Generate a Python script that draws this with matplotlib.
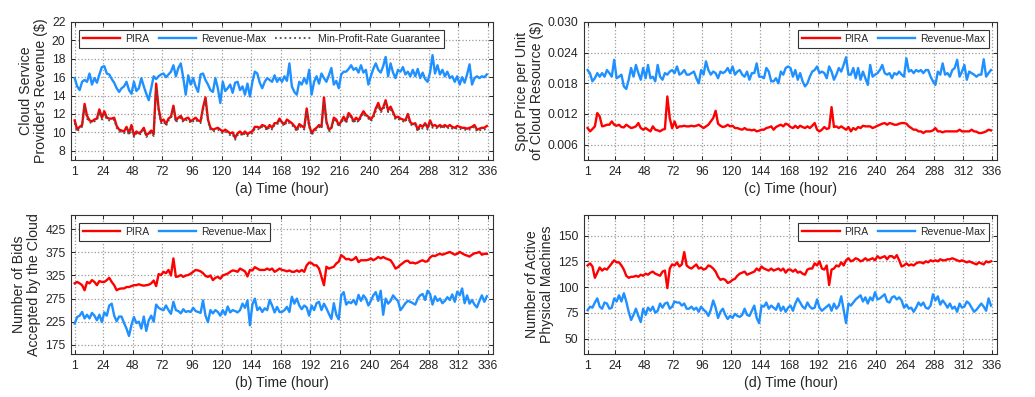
import matplotlib
matplotlib.use("Agg")
import matplotlib.pyplot as plt

plt.rcParams['font.family'] = ['Liberation Sans', 'DejaVu Sans']

# hourly time axis (sampled every 2 hours)
hours = list(range(1, 337, 2))
xtick_vals = [1, 24, 48, 72, 96, 120, 144, 168, 192, 216, 240, 264, 288, 312, 336]

# (a) revenue
rev_pira = [
    11.3, 10.3, 10.6, 10.8, 13.1, 11.8, 11.3, 11.2, 11.4, 11.5, 12.5, 11.6,
    12.3, 11.6, 11.5, 11.5, 11.6, 10.7, 10.3, 10.2, 10.1, 10.6, 9.9, 10.8,
    9.7, 10.1, 9.9, 10.1, 10.5, 9.7, 9.9, 10.2, 9.8, 15.3, 12.6, 11.2,
    11.4, 10.9, 11.5, 11.7, 12.9, 11.3, 11.6, 11.8, 11.3, 11.5, 11.6, 11.2,
    11.4, 11.6, 11.3, 11.2, 12.7, 13.8, 11.4, 10.5, 10.3, 10.4, 10.5, 10.3,
    10.1, 10.3, 10.1, 9.9, 10.0, 9.4, 9.9, 10.1, 9.8, 10.1, 9.8, 10.0,
    10.1, 10.6, 10.6, 10.5, 10.8, 10.7, 10.4, 10.8, 10.5, 11.0, 11.0, 11.5,
    11.1, 10.9, 11.4, 11.2, 11.0, 10.7, 10.3, 10.9, 10.7, 10.5, 12.6, 10.8,
    9.9, 10.3, 10.5, 10.8, 10.6, 13.8, 11.2, 10.3, 10.5, 11.6, 11.4, 10.8,
    11.2, 11.7, 11.2, 12.1, 11.8, 11.2, 11.6, 11.3, 11.8, 12.3, 11.9, 11.7,
    11.4, 11.8, 12.6, 13.2, 12.4, 12.7, 13.5, 12.4, 12.8, 12.2, 11.6, 11.7,
    11.5, 11.4, 11.3, 12.0, 11.1, 10.9, 11.0, 10.3, 10.8, 10.6, 11.0, 10.5,
    11.3, 10.7, 10.8, 10.6, 10.8, 10.6, 10.8, 10.6, 10.8, 10.6, 10.5, 10.7,
    10.6, 10.5, 10.5, 10.4, 10.5, 10.6, 10.8, 10.3, 10.4, 10.5, 10.5, 10.7,
]
rev_revmax = [
    15.9, 15.0, 14.6, 15.5, 15.7, 15.5, 16.4, 15.2, 15.9, 15.4, 16.3, 17.1,
    17.2, 16.4, 16.3, 15.8, 15.4, 14.8, 14.4, 14.8, 15.0, 15.5, 14.6, 14.2,
    15.5, 14.5, 14.8, 15.9, 15.0, 14.2, 13.5, 14.8, 16.1, 15.8, 16.1, 16.3,
    16.4, 16.0, 16.3, 16.6, 17.3, 16.1, 17.0, 17.5, 15.9, 14.1, 16.2, 15.2,
    15.9, 15.0, 14.4, 16.3, 16.4, 15.7, 15.2, 14.6, 14.4, 15.9, 14.8, 13.2,
    15.5, 14.5, 14.8, 15.2, 14.3, 15.4, 15.5, 14.6, 15.0, 14.1, 15.3, 13.9,
    15.5, 16.6, 16.4, 15.4, 14.8, 15.5, 15.9, 15.7, 15.5, 16.2, 15.5, 15.9,
    15.5, 16.1, 15.6, 17.5, 15.0, 14.4, 14.1, 15.5, 15.2, 15.9, 15.3, 16.8,
    14.1, 15.5, 16.1, 15.3, 16.4, 15.9, 15.5, 16.2, 17.0, 15.2, 15.6, 14.8,
    16.3, 16.6, 16.6, 16.9, 17.3, 16.8, 17.0, 16.5, 17.3, 16.5, 16.8, 15.2,
    16.1, 16.9, 17.5, 16.8, 16.5, 17.2, 18.2, 16.1, 17.5, 16.5, 15.9, 16.8,
    16.6, 17.1, 16.3, 16.6, 16.1, 16.8, 16.1, 16.9, 15.9, 16.5, 15.8, 15.5,
    16.5, 18.4, 16.4, 17.3, 16.3, 16.8, 16.1, 16.6, 15.9, 16.1, 15.5, 16.1,
    15.2, 16.0, 15.4, 16.3, 17.4, 15.2, 15.9, 16.1, 15.9, 16.1, 16.0, 16.3,
]
rev_minprofit = [
    11.0, 10.1, 10.4, 10.6, 12.8, 11.5, 11.1, 11.0, 11.2, 11.3, 12.2, 11.4,
    12.0, 11.4, 11.3, 11.3, 11.4, 10.5, 10.1, 10.0, 9.9, 10.4, 9.7, 10.5,
    9.5, 9.9, 9.7, 9.9, 10.3, 9.5, 9.7, 10.0, 9.6, 14.9, 12.3, 11.0,
    11.2, 10.7, 11.3, 11.5, 12.6, 11.1, 11.4, 11.6, 11.1, 11.3, 11.4, 11.0,
    11.2, 11.4, 11.1, 11.0, 12.4, 13.5, 11.2, 10.3, 10.1, 10.2, 10.3, 10.1,
    9.9, 10.1, 9.9, 9.7, 9.8, 9.2, 9.7, 9.9, 9.6, 9.9, 9.6, 9.8,
    9.9, 10.4, 10.4, 10.3, 10.6, 10.5, 10.2, 10.6, 10.3, 10.8, 10.8, 11.3,
    10.9, 10.7, 11.2, 11.0, 10.8, 10.5, 10.1, 10.7, 10.5, 10.3, 12.2, 10.6,
    9.7, 10.1, 10.3, 10.6, 10.4, 13.4, 11.0, 10.1, 10.3, 11.4, 11.2, 10.6,
    11.0, 11.5, 11.0, 11.9, 11.6, 11.0, 11.4, 11.1, 11.6, 12.1, 11.7, 11.5,
    11.2, 11.6, 12.3, 12.9, 12.2, 12.4, 13.2, 12.2, 12.5, 12.0, 11.4, 11.5,
    11.3, 11.2, 11.1, 11.8, 10.9, 10.7, 10.8, 10.1, 10.6, 10.4, 10.8, 10.3,
    11.1, 10.5, 10.6, 10.4, 10.6, 10.4, 10.6, 10.4, 10.6, 10.4, 10.3, 10.5,
    10.4, 10.3, 10.3, 10.2, 10.3, 10.4, 10.6, 10.1, 10.2, 10.3, 10.3, 10.5,
]

# (b) accepted bids
bids_pira = [
    308, 311, 308, 304, 293, 311, 308, 315, 311, 304, 313, 311,
    311, 315, 320, 311, 304, 293, 296, 297, 297, 300, 300, 302,
    304, 304, 306, 304, 303, 304, 305, 308, 314, 302, 328, 326,
    333, 330, 337, 325, 362, 322, 323, 326, 322, 325, 326, 329,
    333, 337, 336, 334, 330, 324, 322, 325, 315, 320, 322, 318,
    325, 327, 329, 333, 336, 335, 333, 340, 337, 334, 323, 337,
    336, 343, 340, 337, 337, 337, 340, 337, 340, 333, 336, 340,
    337, 336, 334, 336, 333, 333, 336, 333, 337, 333, 347, 353,
    352, 347, 347, 340, 322, 304, 344, 340, 342, 344, 351, 355,
    369, 365, 360, 361, 358, 360, 365, 354, 358, 358, 358, 359,
    362, 358, 361, 365, 362, 365, 362, 360, 358, 350, 340, 343,
    348, 352, 356, 357, 352, 353, 351, 353, 356, 358, 355, 356,
    364, 368, 367, 370, 372, 370, 372, 374, 376, 373, 370, 372,
    376, 373, 370, 368, 366, 370, 373, 374, 376, 370, 372, 372,
]
bids_revmax = [
    221, 235, 238, 246, 232, 240, 232, 244, 238, 228, 240, 224,
    245, 238, 260, 264, 238, 226, 236, 236, 222, 210, 194, 218,
    235, 222, 225, 210, 236, 205, 228, 238, 225, 262, 255, 252,
    250, 260, 250, 242, 268, 250, 248, 243, 252, 246, 248, 246,
    255, 248, 246, 244, 271, 238, 224, 250, 243, 250, 246, 238,
    250, 240, 258, 245, 250, 248, 245, 250, 264, 255, 271, 217,
    262, 275, 250, 256, 246, 254, 250, 272, 260, 245, 257, 246,
    246, 250, 257, 246, 279, 264, 275, 260, 252, 260, 256, 238,
    260, 250, 265, 268, 250, 264, 254, 242, 231, 265, 240, 230,
    282, 289, 262, 268, 265, 272, 262, 283, 270, 282, 275, 260,
    270, 282, 289, 270, 292, 240, 275, 264, 270, 282, 275, 270,
    250, 257, 265, 270, 268, 265, 262, 275, 282, 285, 272, 292,
    285, 262, 280, 270, 275, 265, 270, 278, 272, 284, 268, 290,
    282, 297, 265, 282, 264, 272, 262, 256, 270, 282, 268, 280,
]

# (c) spot price
price_pira = [
    0.00925, 0.0086, 0.00906, 0.00958, 0.01218, 0.01153, 0.00958, 0.0097, 0.0099, 0.0099, 0.01055, 0.0099,
    0.0097, 0.0099, 0.00945, 0.00938, 0.0099, 0.00958, 0.00925, 0.00938, 0.00958, 0.01023, 0.00925, 0.00893,
    0.00925, 0.00893, 0.0086, 0.00958, 0.00893, 0.0088, 0.0086, 0.00893, 0.00906, 0.01543, 0.0112, 0.0092,
    0.01055, 0.00925, 0.00958, 0.00958, 0.0097, 0.00958, 0.00958, 0.0097, 0.00958, 0.0097, 0.0099, 0.00958,
    0.00925, 0.00958, 0.0099, 0.01055, 0.0112, 0.01263, 0.0101, 0.0097, 0.00945, 0.00958, 0.0099, 0.00958,
    0.0097, 0.00925, 0.00925, 0.00906, 0.00893, 0.00925, 0.00893, 0.00893, 0.0088, 0.00893, 0.0086, 0.00873,
    0.00893, 0.00893, 0.00925, 0.00938, 0.00958, 0.00893, 0.00945, 0.0097, 0.0099, 0.00958, 0.0101, 0.0099,
    0.00945, 0.00925, 0.0097, 0.00925, 0.0097, 0.00945, 0.00925, 0.00958, 0.00925, 0.0097, 0.01023, 0.00893,
    0.0086, 0.00893, 0.00945, 0.00906, 0.00925, 0.01335, 0.00945, 0.00958, 0.00925, 0.00958, 0.00925, 0.00893,
    0.00945, 0.0086, 0.00925, 0.00893, 0.00945, 0.00925, 0.0097, 0.00958, 0.00958, 0.00958, 0.00925, 0.00945,
    0.0097, 0.0099, 0.0101, 0.01023, 0.0099, 0.01023, 0.0101, 0.0099, 0.0099, 0.0101, 0.01023, 0.01023,
    0.0101, 0.00958, 0.00925, 0.00893, 0.00893, 0.0086, 0.0086, 0.00828, 0.0086, 0.0086, 0.0086, 0.0088,
    0.00925, 0.0086, 0.0086, 0.00841, 0.0086, 0.0086, 0.0086, 0.0086, 0.0086, 0.0086, 0.00893, 0.0086,
    0.0086, 0.0086, 0.0086, 0.00893, 0.0086, 0.00854, 0.00828, 0.00828, 0.00841, 0.0086, 0.00893, 0.0088,
]
price_revmax = [
    0.0206, 0.0199, 0.0184, 0.0190, 0.0200, 0.0193, 0.0200, 0.0193, 0.0206, 0.0200, 0.0193, 0.0226,
    0.0190, 0.0193, 0.0197, 0.0174, 0.0169, 0.0187, 0.0210, 0.0193, 0.0216, 0.0200, 0.0187, 0.0210,
    0.0190, 0.0216, 0.0190, 0.0193, 0.0184, 0.0216, 0.0193, 0.0187, 0.0200, 0.0197, 0.0203, 0.0206,
    0.0200, 0.0213, 0.0197, 0.0200, 0.0206, 0.0197, 0.0197, 0.0200, 0.0203, 0.0190, 0.0180, 0.0206,
    0.0197, 0.0223, 0.0206, 0.0197, 0.0203, 0.0200, 0.0190, 0.0203, 0.0200, 0.0203, 0.0210, 0.0200,
    0.0213, 0.0197, 0.0203, 0.0206, 0.0197, 0.0193, 0.0203, 0.0187, 0.0200, 0.0200, 0.0219, 0.0193,
    0.0193, 0.0190, 0.0210, 0.0203, 0.0184, 0.0184, 0.0190, 0.0180, 0.0203, 0.0197, 0.0210, 0.0213,
    0.0210, 0.0193, 0.0206, 0.0187, 0.0200, 0.0184, 0.0174, 0.0180, 0.0193, 0.0203, 0.0206, 0.0213,
    0.0200, 0.0203, 0.0200, 0.0190, 0.0213, 0.0203, 0.0187, 0.0197, 0.0210, 0.0203, 0.0216, 0.0231,
    0.0197, 0.0197, 0.0210, 0.0190, 0.0210, 0.0187, 0.0203, 0.0190, 0.0177, 0.0216, 0.0193, 0.0197,
    0.0200, 0.0206, 0.0216, 0.0200, 0.0197, 0.0200, 0.0190, 0.0200, 0.0197, 0.0203, 0.0197, 0.0193,
    0.0229, 0.0203, 0.0206, 0.0200, 0.0206, 0.0203, 0.0206, 0.0200, 0.0206, 0.0206, 0.0193, 0.0184,
    0.0177, 0.0203, 0.0197, 0.0219, 0.0197, 0.0200, 0.0193, 0.0206, 0.0210, 0.0226, 0.0193, 0.0203,
    0.0216, 0.0187, 0.0203, 0.0200, 0.0197, 0.0193, 0.0197, 0.0197, 0.0227, 0.0193, 0.0200, 0.0206,
]

# (d) active physical machines
pm_pira = [
    121, 123, 120, 109, 114, 119, 116, 118, 117, 120, 123, 126,
    124, 124, 121, 117, 111, 109, 110, 110, 111, 110, 112, 111,
    113, 112, 114, 115, 113, 112, 111, 115, 116, 99, 118, 122,
    121, 124, 120, 122, 134, 121, 119, 118, 120, 122, 118, 119,
    117, 118, 121, 120, 118, 115, 110, 107, 108, 107, 104, 105,
    107, 108, 111, 113, 114, 115, 112, 113, 114, 115, 118, 116,
    120, 118, 117, 116, 118, 116, 117, 118, 116, 118, 114, 117,
    117, 115, 117, 114, 115, 113, 112, 117, 118, 118, 123, 121,
    125, 118, 117, 121, 102, 117, 118, 121, 120, 124, 121, 126,
    128, 125, 126, 128, 127, 125, 126, 128, 126, 127, 128, 126,
    130, 128, 129, 130, 127, 130, 130, 128, 131, 126, 120, 121,
    123, 121, 122, 121, 123, 124, 124, 123, 125, 124, 126, 125,
    126, 125, 127, 126, 126, 127, 127, 128, 127, 126, 125, 126,
    125, 124, 125, 124, 123, 122, 124, 123, 122, 125, 124, 125,
]
pm_revmax = [
    77.6, 81, 80, 85, 89, 81, 79, 85, 84, 79, 80, 89,
    86, 92, 86, 94, 86, 76, 68, 73, 79, 72, 66, 79,
    73, 80, 77, 81, 75, 77, 84, 80, 84, 85, 79, 81,
    86, 85, 85, 82, 84, 79, 79, 81, 78, 80, 76, 81,
    78, 76, 72, 78, 87, 80, 70, 76, 79, 73, 69, 72,
    70, 74, 72, 71, 73, 79, 73, 72, 77, 82, 70, 65,
    82, 81, 85, 79, 82, 80, 78, 84, 77, 81, 76, 80,
    82, 77, 84, 89, 85, 81, 79, 85, 81, 79, 80, 88,
    80, 77, 79, 81, 83, 77, 84, 79, 82, 91, 78, 65,
    84, 82, 85, 88, 90, 92, 86, 90, 84, 90, 87, 95,
    88, 89, 91, 93, 86, 85, 90, 91, 88, 90, 87, 80,
    83, 79, 80, 76, 80, 85, 82, 85, 80, 79, 82, 93,
    87, 91, 83, 87, 84, 80, 84, 79, 81, 76, 84, 80,
    81, 86, 84, 80, 76, 78, 81, 84, 81, 77, 89, 82,
]

RED = '#ff0000'
BLUE = '#1e90ff'
TXT = '#262626'

fig = plt.figure(figsize=(10.35, 3.97), dpi=100)
W, H = 1035.0, 397.0


def make_ax(left, top, right, bottom):
    return fig.add_axes([left / W, 1 - bottom / H, (right - left) / W, (bottom - top) / H])


ax_a = make_ax(71, 22, 493, 160)
ax_c = make_ax(584, 22, 997, 160)
ax_b = make_ax(71, 215, 493, 354)
ax_d = make_ax(584, 215, 997, 354)


def style(ax, ylim, yticks, ylabels, ylabel, xlabel):
    ax.set_xlim(-2, 340)
    ax.set_ylim(*ylim)
    ax.set_xticks(xtick_vals)
    ax.set_xticklabels([str(v) for v in xtick_vals])
    ax.set_yticks(yticks)
    ax.set_yticklabels(ylabels)
    ax.grid(True, linestyle=':', color='#9a9a9a', linewidth=0.9)
    ax.set_axisbelow(True)
    ax.tick_params(direction='in', top=True, right=True, length=3, width=0.7,
                   labelsize=8.7, colors=TXT, pad=4)
    for s in ax.spines.values():
        s.set_linewidth(0.8)
        s.set_color('#333333')
    ax.set_ylabel(ylabel, fontsize=10.2, color=TXT, linespacing=1.05, labelpad=3)
    ax.set_xlabel(xlabel, fontsize=10.2, color=TXT, labelpad=3)


def legend(ax, loc, ncol):
    lg = ax.legend(loc=loc, ncol=ncol, fontsize=7.5, handlelength=3.6, handletextpad=0.45,
                   columnspacing=0.9, borderpad=0.4, borderaxespad=0.75,
                   fancybox=False, framealpha=1, edgecolor='#333333')
    lg.get_frame().set_linewidth(0.8)
    for t in lg.get_texts():
        t.set_color(TXT)


# (a)
ax_a.plot(hours, rev_pira, color=RED, lw=1.7, label='PIRA')
ax_a.plot(hours, rev_revmax, color=BLUE, lw=1.7, label='Revenue-Max')
ax_a.plot(hours, rev_minprofit, color='#505050', lw=1.3, ls=':', label='Min-Profit-Rate Guarantee')
style(ax_a, (7, 22), [8, 10, 12, 14, 16, 18, 20, 22], [str(v) for v in [8, 10, 12, 14, 16, 18, 20, 22]],
      "Cloud Service\nProvider's Revenue (\\$)", '(a) Time (hour)')
legend(ax_a, 'upper left', 3)

# (c)
ax_c.plot(hours, price_pira, color=RED, lw=1.7, label='PIRA')
ax_c.plot(hours, price_revmax, color=BLUE, lw=1.7, label='Revenue-Max')
cticks = [0.006, 0.012, 0.018, 0.024, 0.030]
style(ax_c, (0.003, 0.030), cticks, ['%.3f' % v for v in cticks],
      'Spot Price per Unit\nof Cloud Resource (\\$)', '(c) Time (hour)')
legend(ax_c, 'upper right', 2)

# (b)
ax_b.plot(hours, bids_pira, color=RED, lw=1.7, label='PIRA')
ax_b.plot(hours, bids_revmax, color=BLUE, lw=1.7, label='Revenue-Max')
bticks = [175, 225, 275, 325, 375, 425]
style(ax_b, (155, 456), bticks, [str(v) for v in bticks],
      'Number of Bids\nAccepted by the Cloud', '(b) Time (hour)')
legend(ax_b, 'upper left', 2)

# (d)
ax_d.plot(hours, pm_pira, color=RED, lw=1.7, label='PIRA')
ax_d.plot(hours, pm_revmax, color=BLUE, lw=1.7, label='Revenue-Max')
dticks = [50, 75, 100, 125, 150]
style(ax_d, (35, 170), dticks, [str(v) for v in dticks],
      'Number of Active\nPhysical Machines', '(d) Time (hour)')
legend(ax_d, 'upper right', 2)

fig.savefig('out.png', dpi=100)
